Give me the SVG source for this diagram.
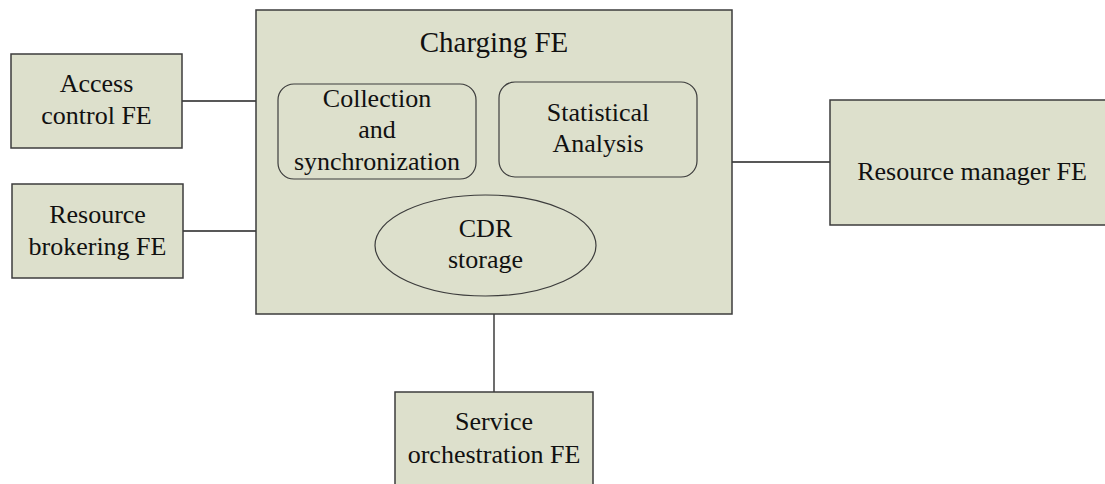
<svg xmlns="http://www.w3.org/2000/svg" width="1105" height="484" viewBox="0 0 1105 484">
<style>
.box{fill:#dde0cc;stroke:#3c3c3c;stroke-width:1.5}
.inner{fill:none;stroke:#3c3c3c;stroke-width:1.2}
.conn{stroke:#202020;stroke-width:1.3;fill:none}
.t{font-size:26px;fill:#111;text-anchor:middle}
.big{font-size:29px}
</style>
<rect width="1105" height="484" fill="#ffffff"/>
<g id="connectors">
<line class="conn" x1="182" y1="101" x2="256" y2="101"/>
<line class="conn" x1="183" y1="231" x2="256" y2="231"/>
<line class="conn" x1="732" y1="162" x2="830" y2="162"/>
<line class="conn" x1="494" y1="314" x2="494" y2="392"/>
</g>
<g font-family="Liberation Serif, Times New Roman, serif">
<g id="access">
<rect class="box" x="11" y="54" width="171" height="94"/>
<text class="t" x="96.5" y="92">Access</text>
<text class="t" x="96.5" y="124">control FE</text>
</g>
<g id="brokering">
<rect class="box" x="12" y="184" width="171" height="94"/>
<text class="t" x="97.5" y="223">Resource</text>
<text class="t" x="97.5" y="255">brokering FE</text>
</g>
<g id="charging">
<rect class="box" x="256" y="10" width="476" height="304"/>
<text class="t big" x="494" y="52">Charging FE</text>
</g>
<g id="collection">
<rect class="inner" x="278" y="84" width="198" height="95" rx="16"/>
<text class="t" x="377" y="107">Collection</text>
<text class="t" x="377" y="138">and</text>
<text class="t" x="377" y="170">synchronization</text>
</g>
<g id="statistical">
<rect class="inner" x="499" y="82" width="198" height="95" rx="16"/>
<text class="t" x="598" y="121">Statistical</text>
<text class="t" x="598" y="152">Analysis</text>
</g>
<g id="cdr">
<ellipse class="inner" cx="485.5" cy="245.5" rx="110.5" ry="50.5"/>
<text class="t" x="485.5" y="237">CDR</text>
<text class="t" x="485.5" y="268">storage</text>
</g>
<g id="resource-manager">
<rect class="box" x="830" y="100" width="285" height="125"/>
<text class="t" x="972" y="180">Resource manager FE</text>
</g>
<g id="service">
<rect class="box" x="395" y="392" width="198" height="100"/>
<text class="t" x="494" y="430">Service</text>
<text class="t" x="494" y="463">orchestration FE</text>
</g>
</g>
</svg>
